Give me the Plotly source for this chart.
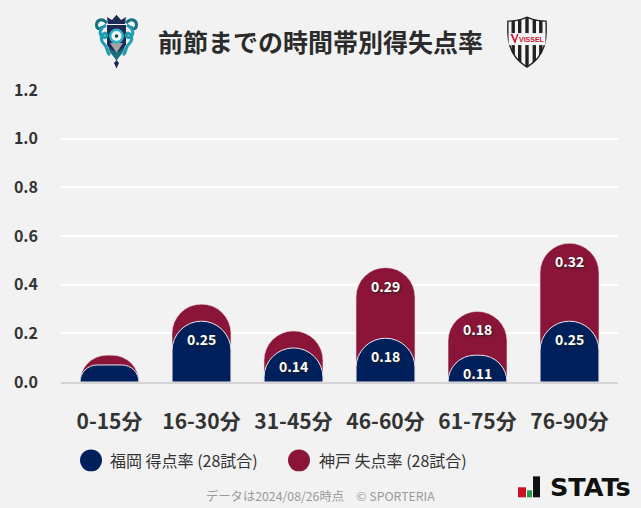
import base64
import plotly.graph_objects as go

categories = ["0-15分", "16-30分", "31-45分", "46-60分", "61-75分", "76-90分"]
home_rate = [0.07, 0.25, 0.14, 0.18, 0.11, 0.25]
away_rate = [0.04, 0.07, 0.07, 0.29, 0.18, 0.32]
y_ticks = [0, 0.2, 0.4, 0.6, 0.8, 1.0, 1.2]
home_label = "福岡 得点率 (28試合)"
away_label = "神戸 失点率 (28試合)"
title = "前節までの時間帯別得失点率"
footer = "データは2024/08/26時点　© SPORTERIA"

NAVY = "#00205b"
RED = "#8a1538"
BG = "#f2f2f2"
FONT = "Noto Sans CJK JP"
W, H = 641, 508
L, R, T, B = 61, 618, 90, 382.5


def xp(x):
    return (x - L) / (R - L)


def yp(y):
    return (B - y) / (B - T)


totals = [round(a + b, 2) for a, b in zip(home_rate, away_rate)]

fig = go.Figure()
fig.add_bar(x=categories, y=totals, marker=dict(color=RED, cornerradius="50%", line=dict(color="#f0d8de", width=0.5)),
            hoverinfo="skip", showlegend=False)
fig.add_bar(x=categories, y=home_rate, xaxis="x2", yaxis="y2",
            marker=dict(color=NAVY, cornerradius="50%", line=dict(color="#e8e8f0", width=1)),
            hoverinfo="skip", showlegend=False)

ann = []
for c, h, a, t in zip(categories, home_rate, away_rate, totals):
    for val, top in ((h, h), (a, t)):
        if val >= 0.1:
            ann.append(dict(x=c, y=top, yshift=-18, yanchor="middle", xanchor="center", showarrow=False,
                            text=f"<b>{val:.2f}</b>",
                            font=dict(family=FONT, size=14, color="white", shadow="1px 1px 2px #222")))


def txt(x, y, s, size, color, anchor="left", bold=False, family=FONT):
    ann.append(dict(xref="paper", yref="paper", x=xp(x), y=yp(y), xanchor=anchor,
                    yanchor="middle", showarrow=False, text=f"<b>{s}</b>" if bold else s,
                    font=dict(family=family, size=size, color=color)))


txt(320.5, 41, title, 25, "#2b2b2b", "center", True)
txt(108, 460.5, home_label, 16, "#333333")
txt(317, 460.5, away_label, 16, "#333333")
txt(320.5, 497, footer, 12.3, "#9a9a9a", "center")
txt(590.5, 487.5, "STATs", 25.5, "#111111", "center", True, "DejaVu Sans")

shapes = []


def shape(kind, x0, y0, x1, y1, color):
    shapes.append(dict(type=kind, xref="paper", yref="paper", x0=xp(x0), x1=xp(x1), y0=yp(y0), y1=yp(y1),
                       fillcolor=color, line=dict(width=0), layer="above"))


shape("circle", 80, 450, 102, 472, NAVY)
shape("circle", 288, 450, 310, 472, RED)

avispa = """<svg xmlns='http://www.w3.org/2000/svg' viewBox='0 0 43 55' width='430' height='550'>
<path d='M12 11 H31 V31 L21.5 44 L12 31 Z' fill='#1c2a55'/>
<path d='M13 10 L12 3 L17 6 L21.5 0.5 L26 6 L31 3 L30 10 Z' fill='#1c2a55'/>
<path d='M12 9 C7 3 1.5 6 1.5 11 C1.5 16 7 15.5 7 12 M31 9 C36 3 41.5 6 41.5 11 C41.5 16 36 15.5 36 12' fill='none' stroke='#16707f' stroke-width='3'/>
<path d='M11 11 C5 14 3 20 8 23 C12 25 13 20 10 19 C5 21 5 27 10 31 C13 34 11 38 15 41 M32 11 C38 14 40 20 35 23 C31 25 30 20 33 19 C38 21 38 27 33 31 C30 34 32 38 28 41' fill='none' stroke='#1c9db0' stroke-width='3'/>
<path d='M13 33 C14 39 19 42 21.5 47 C24 42 29 39 30 33 L21.5 39 Z' fill='#16707f'/>
<path d='M15 29 H28 L21.5 39 Z' fill='#a5a5a5'/>
<circle cx='21.5' cy='22' r='7.5' fill='#2fb3c4'/>
<circle cx='21.5' cy='22' r='5' fill='#eef6f6'/>
<circle cx='21.5' cy='22' r='1.8' fill='#1c4a60'/>
<path d='M21.5 46 L24 49 L21.5 54.5 L19 49 Z' fill='#1c2a55'/>
</svg>"""
vissel = """<svg xmlns='http://www.w3.org/2000/svg' viewBox='0 0 40 52' width='400' height='520'>
<defs><clipPath id='c'><path d='M20 1 C26 4 33 5 39 5 C40 22 39 40 20 51 C1 40 0 22 1 5 C7 5 14 4 20 1Z'/></clipPath></defs>
<path d='M20 1 C26 4 33 5 39 5 C40 22 39 40 20 51 C1 40 0 22 1 5 C7 5 14 4 20 1Z' fill='#f5f5f5' stroke='#222' stroke-width='1.4'/>
<g clip-path='url(#c)' fill='#222'>
<rect x='4.5' y='4' width='3.4' height='44'/><rect x='11' y='2' width='3.4' height='48'/><rect x='18.3' y='0' width='3.4' height='52'/><rect x='25.6' y='2' width='3.4' height='48'/><rect x='32.1' y='4' width='3.4' height='44'/>
</g>
<rect x='1.6' y='17' width='36.8' height='12' fill='#f5f5f5'/>
<path d='M3.5 18 L8 28 L11.5 18 L10 18 L8 24 L5.4 18 Z' fill='#c8102e'/>
</svg>"""


def uri(svg):
    return "data:image/svg+xml;base64," + base64.b64encode(svg.encode()).decode()


images = [
    dict(source=uri(avispa), xref="paper", yref="paper", x=xp(95), y=yp(14), sizex=43 / (R - L), sizey=55 / (B - T),
         sizing="stretch", xanchor="left", yanchor="top", layer="above"),
    dict(source=uri(vissel), xref="paper", yref="paper", x=xp(507), y=yp(16), sizex=40 / (R - L), sizey=52 / (B - T),
         sizing="stretch", xanchor="left", yanchor="top", layer="above"),
]
shape("rect", 518, 488, 526, 498, "#cc1122")
shape("rect", 527, 491, 532, 498, "#1f9e4a")
shape("rect", 533, 477, 540, 498, "#111111")
txt(532, 39.5, "VISSEL", 7, "#c8102e", "center", True, "Liberation Sans")

xrange = [-0.527, 5.527]
fig.update_layout(
    width=W, height=H, autosize=False,
    paper_bgcolor=BG, plot_bgcolor=BG,
    margin=dict(l=L, r=W - R, t=T, b=H - B),
    barmode="overlay", bargap=0.36,
    showlegend=False,
    font=dict(family=FONT, color="#333333"),
    annotations=ann, shapes=shapes, images=images,
    xaxis=dict(type="category", categoryorder="array", categoryarray=categories, range=xrange,
               tickfont=dict(size=21, color="#333333", weight="bold"), ticks="", showgrid=False,
               showline=True, linecolor="#d4d4d4", linewidth=2, ticklabelstandoff=20, zeroline=False),
    yaxis=dict(range=[0, 1.2], tickvals=y_ticks, ticktext=[f"{v:.1f}" for v in y_ticks],
               tickfont=dict(size=16, color="#333333", weight="bold"), gridcolor="white", gridwidth=2,
               showline=False, zeroline=False, ticks="", ticklabelstandoff=22),
    xaxis2=dict(type="category", categoryorder="array", categoryarray=categories, range=xrange,
                overlaying="x", visible=False),
    yaxis2=dict(range=[0, 1.2], overlaying="y", visible=False),
)
fig.write_html("out.html", config={"displayModeBar": False},
               post_script="document.body.style.margin='0';document.documentElement.style.overflow='hidden';")
